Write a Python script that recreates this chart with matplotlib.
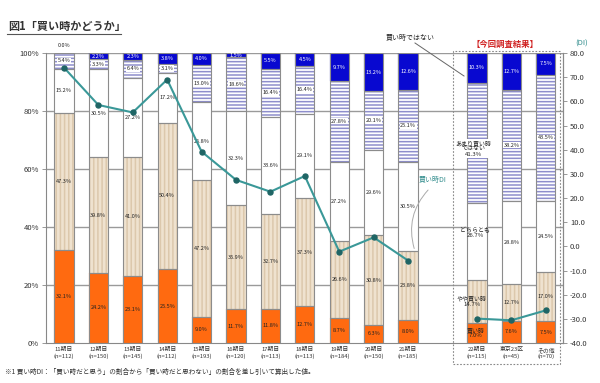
import matplotlib
matplotlib.use("Agg")
import matplotlib.pyplot as plt
from matplotlib.patches import Rectangle
from matplotlib.lines import Line2D

plt.rcParams['font.family'] = ['Noto Sans CJK JP', 'DejaVu Sans']
plt.rcParams['hatch.linewidth'] = 1.1

categories = ["11期目\n(n=112)", "12期目\n(n=150)", "13期目\n(n=145)", "14期目\n(n=112)",
              "15期目\n(n=193)", "16期目\n(n=120)", "17期目\n(n=113)", "18期目\n(n=113)",
              "19期目\n(n=184)", "20期目\n(n=150)", "21期目\n(n=185)",
              "22期目\n(n=115)", "東京23区\n(n=45)", "その他\n(n=70)"]
positions = [0, 1, 2, 3, 4, 5, 6, 7, 8, 9, 10, 12, 13, 14]

kaidoki = [32.1, 24.2, 23.1, 25.5, 9.0, 11.7, 11.8, 12.7, 8.7, 6.3, 8.0, 7.0, 7.6, 7.5]
yaya = [47.3, 39.8, 41.0, 50.4, 47.2, 35.9, 32.7, 37.3, 26.6, 30.8, 23.8, 14.7, 12.7, 17.0]
dochira = [15.2, 30.5, 27.2, 17.2, 26.8, 32.3, 33.6, 29.1, 27.2, 29.6, 30.5, 26.7, 28.8, 24.5]
amari = [5.4, 3.3, 6.4, 3.1, 13.0, 18.6, 16.4, 16.4, 27.8, 20.1, 25.1, 41.3, 38.2, 43.5]
nai = [0.0, 2.2, 2.3, 3.8, 4.0, 1.5, 5.5, 4.5, 9.7, 13.2, 12.6, 10.3, 12.7, 7.5]
di = [74.0, 58.5, 55.4, 69.0, 39.2, 27.5, 22.6, 29.1, -2.2, 3.7, -5.9, -29.9, -30.6, -26.5]

W, H = 600, 383
fig = plt.figure(figsize=(6, 3.83), dpi=100)
fig.patch.set_facecolor('white')

def fx(px):
    return px / W

def fy(py):
    return 1 - py / H

ax = fig.add_axes([fx(46), fy(343), fx(563 - 46), (343 - 53) / H])
ax2 = ax.twinx()
ax.set_zorder(1)
ax2.set_zorder(2)
ax.patch.set_visible(False)

bw = 0.56
edge = '#8c8c8c'
segments = [
    (kaidoki, '#FF6A10', None, None, '#222222'),
    (yaya, '#EFE2CF', '||||', '#DCC8AC', '#222222'),
    (dochira, '#FFFFFF', None, None, '#222222'),
    (amari, '#FFFFFF', '-----', '#8E8ECC', '#222222'),
    (nai, '#0808D0', None, None, '#FFFFFF'),
]

for yv in [20, 40, 60, 80]:
    ax.axhline(yv, color='#9a9a9a', linewidth=1.0, zorder=0.5)
ax.axhline(100, color='#9a9a9a', linewidth=1.0, zorder=0.5)

bottoms = [0.0] * len(positions)
for vals, fc, hatch, hc, tc in segments:
    if hatch:
        ax.bar(positions, vals, bw, bottom=bottoms, facecolor=fc, edgecolor=hc,
               hatch=hatch, linewidth=0, zorder=2)
    else:
        ax.bar(positions, vals, bw, bottom=bottoms, facecolor=fc, edgecolor=fc,
               linewidth=0.1, zorder=2)
    ax.bar(positions, vals, bw, bottom=bottoms, fill=False, edgecolor=edge,
           linewidth=0.8, zorder=3)
    for i, (p, v, b) in enumerate(zip(positions, vals, bottoms)):
        if v <= 0 or i == 11:
            continue
        yc = b + v / 2
        bbox = None
        if hatch == '-----':
            bbox = dict(boxstyle='square,pad=0.1', fc='white', ec='none')
        ax.text(p, yc, f"{v:.1f}%", ha='center', va='center', fontsize=4,
                color=tc, zorder=5, bbox=bbox)
    bottoms = [b + v for b, v in zip(bottoms, vals)]

# zero label above first bar
ax.text(positions[0], 102.5, f"{nai[0]:.1f}%", ha='center', va='center', fontsize=4,
        color='#222222', clip_on=False)

# labels for the current-survey bar with category names
i = 11
p = positions[i]
ax.text(p - 0.05, kaidoki[i] / 2, f"買い時\n{kaidoki[i]:.1f}%", ha='center', va='center',
        fontsize=4.3, color='#222222', zorder=6, linespacing=1.1)
ax.text(p - 0.15, kaidoki[i] + yaya[i] / 2, f"やや買い時\n{yaya[i]:.1f}%", ha='center',
        va='center', fontsize=4.3, color='#222222', zorder=6, linespacing=1.1)
b3 = kaidoki[i] + yaya[i]
ax.text(p - 0.05, b3 + dochira[i] / 2 + 3, f"どちらとも\n{dochira[i]:.1f}%", ha='center',
        va='center', fontsize=4.3, color='#222222', zorder=6, linespacing=1.1)
b4 = b3 + dochira[i]
ax.text(p - 0.1, b4 + amari[i] / 2 - 2, f"あまり買い時\nではない\n{amari[i]:.1f}%",
        ha='center', va='center', fontsize=4.3, color='#222222', zorder=6, linespacing=1.1,
        bbox=dict(boxstyle='square,pad=0.15', fc='white', ec='none'))
ax.text(p, b4 + amari[i] + nai[i] / 2, f"{nai[i]:.1f}%", ha='center', va='center',
        fontsize=4, color='white', zorder=6)

ax.set_xlim(-0.52, 14.5)
ax.set_ylim(0, 100)
ax.set_yticks([0, 20, 40, 60, 80, 100])
ax.set_yticklabels([f"{v}%" for v in [0, 20, 40, 60, 80, 100]], fontsize=5.5, color='#333333')
ax.set_xticks(positions)
ax.set_xticklabels(categories, fontsize=4.2, color='#333333', linespacing=1.2, va='top')
ax.tick_params(axis='x', length=0, pad=3)
ax.tick_params(axis='y', length=3, width=0.6, color='#888888', pad=2)
for s in ['left', 'right', 'bottom']:
    ax.spines[s].set_color('#888888')
    ax.spines[s].set_linewidth(0.8)
ax.spines['top'].set_visible(False)

# DI line
line_c = '#3A9898'
mk_c = '#1F6565'
ax2.plot(positions[:11], di[:11], color=line_c, linewidth=1.5, marker='o', markersize=3.6,
         markerfacecolor=mk_c, markeredgecolor=mk_c, zorder=4)
ax2.plot(positions[11:], di[11:], color=line_c, linewidth=1.5, marker='o', markersize=3.6,
         markerfacecolor=mk_c, markeredgecolor=mk_c, zorder=4)
ax2.set_ylim(-40, 80)
ax2.set_yticks(list(range(-40, 81, 10)))
ax2.set_yticklabels([f"{v:.1f}" for v in range(-40, 81, 10)], fontsize=5.5, color='#333333')
ax2.tick_params(axis='y', length=3, width=0.6, color='#888888', pad=2)
for s in ['left', 'right', 'bottom', 'top']:
    ax2.spines[s].set_visible(False)
ax2.spines['right'].set_visible(True)
ax2.spines['right'].set_color('#888888')

# Dashed box around current survey
fig.patches.append(Rectangle((fx(453), fy(364)), fx(560 - 453), (364 - 51) / H,
                             transform=fig.transFigure, fill=False, edgecolor='#888888',
                             linestyle=(0, (1.5, 1.5)), linewidth=0.8, zorder=10))

# Texts
fig.text(fx(8), fy(26), "図1「買い時かどうか」", fontsize=8, color='#333333',
         ha='left', va='center', fontweight='bold')
fig.add_artist(Line2D([fx(7), fx(121)], [fy(34), fy(34)], color='#555555', linewidth=0.8))
fig.text(fx(505), fy(44), "【今回調査結果】", fontsize=6, color='#D02020', ha='center',
         va='center', fontweight='bold')
fig.text(fx(582), fy(44), "(DI)", fontsize=5.5, color='#2E8B8B', ha='center', va='center')
fig.text(fx(410), fy(38), "買い時ではない", fontsize=5, color='#222222', ha='center',
         va='center')
fig.add_artist(Line2D([fx(415), fx(464)], [fy(43), fy(76)], color='#666666', linewidth=0.7))
fig.text(fx(433), fy(180), "買い時DI", fontsize=5, color='#2E8B8B', ha='center',
         va='center')
ax2.annotate("", xy=(10.2, -2), xycoords='data',
             xytext=(fx(430), fy(188)), textcoords='figure fraction',
             arrowprops=dict(arrowstyle='-', color='#aaaaaa', linewidth=0.7,
                             connectionstyle='arc3,rad=0.3'))
fig.text(fx(5), fy(372), "※1 買い時DI：「買い時だと思う」の割合から「買い時だと思わない」の割合を差し引いて算出した値。",
         fontsize=4.8, color='#333333', ha='left', va='center')

fig.savefig("out.png", dpi=100, facecolor='white')
